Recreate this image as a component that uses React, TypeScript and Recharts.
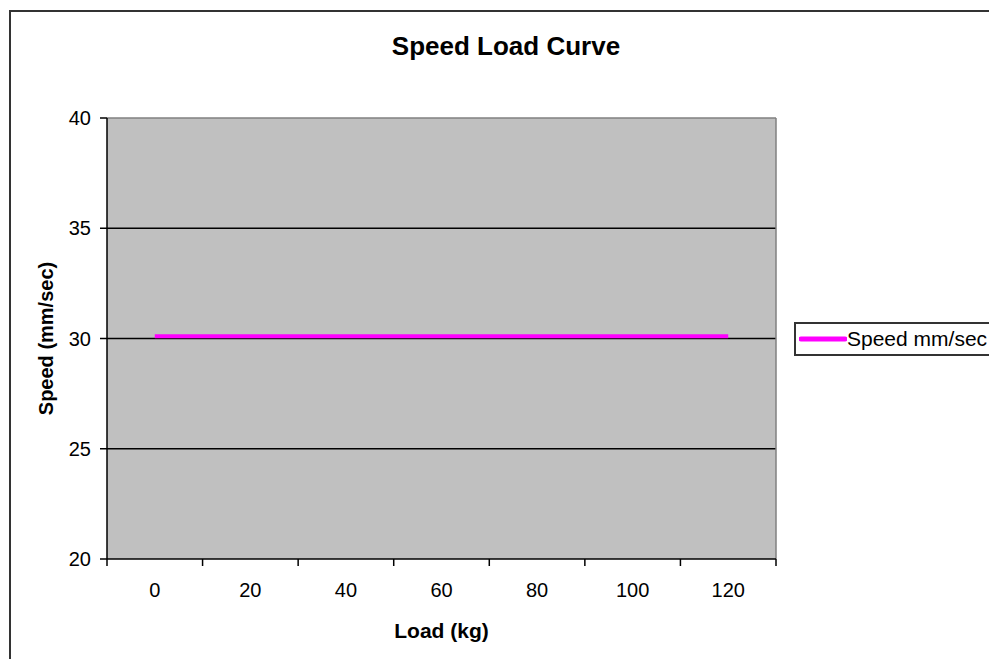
import {
  CartesianGrid,
  Legend,
  Line,
  LineChart,
  XAxis,
  YAxis,
} from "recharts";

const CHART_WIDTH = 989;
const CHART_HEIGHT = 659;
const MARGIN = { top: 117, right: 212, bottom: 0, left: 47 };
const Y_AXIS_WIDTH = 60;
const RIGHT_AXIS_WIDTH = 1;
const FONT = '"Liberation Sans", Arial, sans-serif';
const LINE_COLOR = "#ff00ff";
const PLOT_FILL = "#c0c0c0";
const BORDER_GRAY = "#808080";

const loads = [0, 20, 40, 60, 80, 100, 120];
const speeds = [30.1, 30.1, 30.1, 30.1, 30.1, 30.1, 30.1];
const loadTicks = [0, 20, 40, 60, 80, 100, 120];
const speedTicks = [20, 25, 30, 35, 40];
const gridValues = [25, 30, 35];

const data = loads.map((load, i) => ({ load, speed: speeds[i] }));

const PLOT_WIDTH =
  CHART_WIDTH - MARGIN.left - MARGIN.right - Y_AXIS_WIDTH - RIGHT_AXIS_WIDTH;
const HALF_STEP = PLOT_WIDTH / loadTicks.length / 2;

// category-style axis: labels centred, tick marks between the categories
function LoadTick(props: any) {
  const { x, y, payload, index } = props;
  const last = index === loadTicks.length - 1;
  return (
    <g>
      <line x1={x - HALF_STEP} y1={y} x2={x - HALF_STEP} y2={y + 7} stroke="#000" strokeWidth={1.5} />
      {last && (
        <line x1={x + HALF_STEP} y1={y} x2={x + HALF_STEP} y2={y + 7} stroke="#000" strokeWidth={1.5} />
      )}
      <text
        x={x}
        y={y + 24}
        dy="0.71em"
        textAnchor="middle"
        fill="#000"
        fontSize={20}
        fontFamily={FONT}
      >
        {payload.value}
      </text>
    </g>
  );
}

function LegendBox() {
  return (
    <div
      style={{
        width: 250,
        height: 34,
        border: "2px solid #333",
        boxSizing: "border-box",
        display: "flex",
        alignItems: "center",
        background: "#fff",
        fontFamily: FONT,
        fontSize: 21,
        color: "#000",
        whiteSpace: "nowrap",
      }}
    >
      <svg width={48} height={8} style={{ marginLeft: 3, marginRight: 0 }}>
        <line x1={2} y1={4} x2={46} y2={4} stroke={LINE_COLOR} strokeWidth={5} strokeLinecap="round" />
      </svg>
      <span>Speed mm/sec</span>
    </div>
  );
}

export default function App() {
  return (
    <div
      style={{
        position: "fixed",
        left: 0,
        top: 0,
        width: CHART_WIDTH,
        height: CHART_HEIGHT,
        overflow: "hidden",
        background: "#fff",
      }}
    >
      <div
        style={{
          position: "absolute",
          left: 9,
          top: 10,
          width: 1100,
          height: 800,
          border: "2px solid #333",
        }}
      />
      <div
        style={{
          position: "absolute",
          left: 0,
          width: 1012,
          top: 31,
          textAlign: "center",
          fontFamily: FONT,
          fontWeight: "bold",
          fontSize: 26,
          color: "#000",
        }}
      >
        Speed Load Curve
      </div>
      <div style={{ position: "absolute", left: 0, top: 0 }}>
        <LineChart
          width={CHART_WIDTH}
          height={CHART_HEIGHT}
          data={data}
          margin={MARGIN}
        >
          <CartesianGrid
            fill={PLOT_FILL}
            fillOpacity={1}
            vertical={false}
            horizontalValues={gridValues}
            stroke="#000"
            strokeWidth={1.5}
          />
          <XAxis
            xAxisId="top"
            orientation="top"
            type="number"
            domain={[-10, 130]}
            height={1}
            tick={false}
            tickLine={false}
            axisLine
            stroke={BORDER_GRAY}
            strokeWidth={1.5}
          />
          <YAxis
            yAxisId="right"
            orientation="right"
            type="number"
            domain={[20, 40]}
            width={RIGHT_AXIS_WIDTH}
            tick={false}
            tickLine={false}
            axisLine
            stroke={BORDER_GRAY}
            strokeWidth={1.5}
          />
          <XAxis
            dataKey="load"
            type="number"
            domain={[-10, 130]}
            ticks={loadTicks}
            allowDataOverflow
            height={100}
            axisLine
            tickLine={false}
            tickSize={0}
            tickMargin={0}
            stroke="#000"
            strokeWidth={1.5}
            tick={<LoadTick />}
            label={{
              value: "Load (kg)",
              position: "insideBottom",
              offset: 21,
              fill: "#000",
              fontSize: 21,
              fontWeight: "bold",
              fontFamily: FONT,
            }}
          />
          <YAxis
            type="number"
            domain={[20, 40]}
            ticks={speedTicks}
            width={Y_AXIS_WIDTH}
            tickSize={7}
            tickMargin={9}
            axisLine
            tickLine
            stroke="#000"
            strokeWidth={1.5}
            tick={{ fill: "#000", fontSize: 20, fontFamily: FONT }}
            label={{
              value: "Speed (mm/sec)",
              angle: -90,
              position: "insideLeft",
              offset: -1,
              fill: "#000",
              fontSize: 20,
              fontWeight: "bold",
              fontFamily: FONT,
              style: { textAnchor: "middle" },
            }}
          />
          <Legend
            layout="horizontal"
            align="center"
            verticalAlign="middle"
            content={() => <LegendBox />}
            wrapperStyle={{ left: 794, top: 322, width: 250, height: 34 }}
          />
          <Line
            type="linear"
            dataKey="speed"
            name="Speed mm/sec"
            stroke={LINE_COLOR}
            strokeWidth={4}
            dot={false}
            activeDot={false}
            isAnimationActive={false}
          />
        </LineChart>
      </div>
    </div>
  );
}
